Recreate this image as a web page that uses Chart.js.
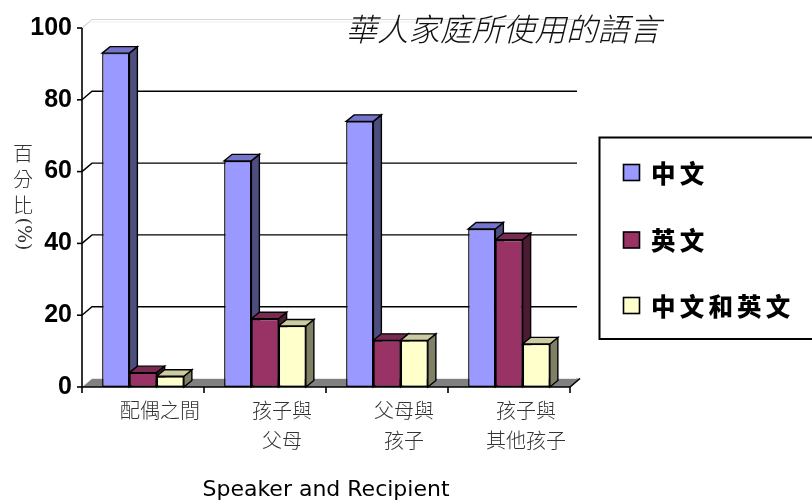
<!DOCTYPE html>
<html>
<head>
<meta charset="utf-8">
<script src="https://cdn.jsdelivr.net/npm/chart.js@4/dist/chart.umd.min.js"></script>
<style>
html,body{margin:0;padding:0;background:#fff;}
canvas{display:block;}
</style>
</head>
<body>
<canvas id="c" width="812" height="502"></canvas>
<script>
// ---- data ----
const categories = [["配偶之間"], ["孩子與", "父母"], ["父母與", "孩子"], ["孩子與", "其他孩子"]];
const seriesNames = ["中文", "英文", "中文和英文"];
const chinese = [93, 63, 74, 44];
const english = [4, 19, 13, 41];
const both = [3, 17, 13, 12];
const yTicks = [0, 20, 40, 60, 80, 100];
const chartTitle = "華人家庭所使用的語言";
const yTitleChars = ["百", "分", "比"];
const yTitleTail = "(%)";
const xTitle = "Speaker and Recipient";

// ---- styles ----
const fronts = ["#9999FF", "#993366", "#FFFFCC"];
const tops = ["#7474CC", "#7A2952", "#CCCCA3"];
const sides = ["#4D4D80", "#4D1A33", "#808066"];
const BAR_DX = 8, BAR_DY = -6.5;   // bar depth
const WALL_DX = 10, WALL_DY = -8.5; // wall depth
const CJK = '"Noto Sans CJK TC", "Noto Sans CJK SC", sans-serif';

function poly(ctx, pts, fill, stroke, lw) {
  ctx.beginPath();
  ctx.moveTo(pts[0][0], pts[0][1]);
  for (let i = 1; i < pts.length; i++) ctx.lineTo(pts[i][0], pts[i][1]);
  ctx.closePath();
  if (fill) { ctx.fillStyle = fill; ctx.fill(); }
  if (stroke) { ctx.strokeStyle = stroke; ctx.lineWidth = lw || 1; ctx.stroke(); }
}

const scene3d = {
  id: 'scene3d',
  beforeDatasetsDraw(chart) {
    const ctx = chart.ctx;
    const a = chart.chartArea;
    const ys = chart.scales.y;
    ctx.save();
    const yTop = ys.getPixelForValue(100);
    const yBot = ys.getPixelForValue(0);
    // back wall top edge & top-left diagonal (light)
    ctx.strokeStyle = '#d8d8d8';
    ctx.lineWidth = 1.2;
    ctx.beginPath();
    ctx.moveTo(a.left, yTop);
    ctx.lineTo(a.left + WALL_DX, yTop + WALL_DY);
    ctx.lineTo(a.right + WALL_DX - 3, yTop + WALL_DY);
    ctx.stroke();
    ctx.beginPath();
    ctx.moveTo(a.left + WALL_DX, yTop + WALL_DY + 2.5);
    ctx.lineTo(a.right + WALL_DX - 3, yTop + WALL_DY + 2.5);
    ctx.strokeStyle = '#eeeeee';
    ctx.stroke();
    // gridlines on back wall
    yTicks.forEach(v => {
      if (v === 0 || v === 100) return;
      const y = ys.getPixelForValue(v);
      ctx.strokeStyle = '#000';
      ctx.lineWidth = 1.4;
      ctx.beginPath();
      ctx.moveTo(a.left, y);
      ctx.lineTo(a.left + WALL_DX, y + WALL_DY);
      ctx.lineTo(a.right + WALL_DX - 3, y + WALL_DY);
      ctx.stroke();
    });
    // floor
    poly(ctx, [[a.left, yBot], [a.right, yBot], [a.right + WALL_DX, yBot + WALL_DY], [a.left + WALL_DX, yBot + WALL_DY]], '#808080');
    ctx.strokeStyle = '#e6e6e6';
    ctx.lineWidth = 1;
    ctx.beginPath();
    ctx.moveTo(a.left + 1, yBot - 1);
    ctx.lineTo(a.left + WALL_DX, yBot + WALL_DY);
    ctx.lineTo(a.right + WALL_DX - 4, yBot + WALL_DY);
    ctx.stroke();
    // y axis line & ticks
    ctx.strokeStyle = '#000';
    ctx.lineWidth = 1.6;
    ctx.beginPath();
    ctx.moveTo(a.left, yTop);
    ctx.lineTo(a.left, yBot);
    ctx.stroke();
    yTicks.forEach(v => {
      const y = ys.getPixelForValue(v);
      ctx.beginPath();
      ctx.moveTo(a.left - 5, y);
      ctx.lineTo(a.left, y);
      ctx.stroke();
    });
    // x axis line & ticks
    ctx.beginPath();
    ctx.moveTo(a.left, yBot);
    ctx.lineTo(a.right, yBot);
    ctx.lineTo(a.right + WALL_DX, yBot + WALL_DY);
    ctx.stroke();
    const n = categories.length;
    const cw = (a.right - a.left) / n;
    for (let i = 0; i <= n; i++) {
      const x = a.left + i * cw;
      ctx.beginPath();
      ctx.moveTo(x, yBot);
      ctx.lineTo(x, yBot + 6);
      ctx.stroke();
    }
    // bar sides & tops
    const metas = chart.data.datasets.map((d, i) => chart.getDatasetMeta(i));
    for (let c = 0; c < n; c++) {
      metas.forEach((m, di) => {
        const el = m.data[c];
        const p = el.getProps(['x', 'y', 'base', 'width'], true);
        const l = p.x - p.width / 2, r = p.x + p.width / 2;
        const t = p.y, b = p.base;
        poly(ctx, [[r, t], [r + BAR_DX, t + BAR_DY], [r + BAR_DX, b + BAR_DY], [r, b]], sides[di], '#000', 1.4);
        poly(ctx, [[l, t], [r, t], [r + BAR_DX, t + BAR_DY], [l + BAR_DX, t + BAR_DY]], tops[di], '#000', 1.4);
      });
    }
    ctx.restore();
  },
  afterDraw(chart) {
    const ctx = chart.ctx;
    ctx.save();
    // title
    ctx.fillStyle = '#111';
    ctx.font = 'italic 300 31.5px ' + CJK;
    ctx.textAlign = 'center';
    ctx.textBaseline = 'middle';
    ctx.fillText(chartTitle, 503, 29);
    // y title
    ctx.fillStyle = '#333';
    ctx.font = '300 20px ' + CJK;
    yTitleChars.forEach((ch, i) => ctx.fillText(ch, 23, 153 + i * 26));
    ctx.save();
    ctx.translate(23, 234);
    ctx.rotate(Math.PI / 2);
    ctx.font = '19px "DejaVu Serif", serif';
    ctx.fillText(yTitleTail, 0, 0);
    ctx.restore();
    // legend
    ctx.strokeStyle = '#000';
    ctx.lineWidth = 2;
    ctx.strokeRect(599.5, 137.5, 230, 201.5);
    const ly = [172.5, 240, 305.5];
    chart.data.datasets.forEach((d, i) => {
      ctx.fillStyle = d.backgroundColor;
      ctx.fillRect(623.5, ly[i] - 8, 16, 16);
      ctx.lineWidth = 1.6;
      ctx.strokeRect(623.5, ly[i] - 8, 16, 16);
      ctx.fillStyle = '#000';
      ctx.font = '900 24.5px ' + CJK;
      ctx.textAlign = 'left';
      ctx.textBaseline = 'middle';
      [...d.label].forEach((ch, k) => ctx.fillText(ch, 651 + k * 28.7, ly[i] + 1));
    });
    ctx.restore();
  }
};

new Chart(document.getElementById('c'), {
  type: 'bar',
  data: {
    labels: categories,
    datasets: [
      { label: seriesNames[0], data: chinese, backgroundColor: fronts[0] },
      { label: seriesNames[1], data: english, backgroundColor: fronts[1] },
      { label: seriesNames[2], data: both, backgroundColor: fronts[2] }
    ]
  },
  options: {
    responsive: false,
    devicePixelRatio: 1,
    animation: false,
    layout: { padding: { top: 28, right: 242, left: 0, bottom: 0 } },
    datasets: {
      bar: {
        categoryPercentage: 0.67,
        barPercentage: 1.0,
        borderColor: '#000',
        borderWidth: 1.4,
        borderSkipped: false
      }
    },
    plugins: {
      legend: { display: false },
      tooltip: { enabled: false },
      title: { display: false }
    },
    scales: {
      y: {
        min: 0, max: 100,
        afterFit(s) { s.width = 82; },
        grid: { display: false, drawTicks: false },
        border: { display: false },
        ticks: {
          stepSize: 20,
          padding: 10,
          color: '#000',
          font: { family: '"Liberation Sans", Arial, sans-serif', size: 25, weight: 'bold' }
        }
      },
      x: {
        afterFit(s) { s.height = 115; },
        grid: { display: false, drawTicks: false },
        border: { display: false },
        ticks: {
          padding: 8,
          labelOffset: 17,
          maxRotation: 0,
          autoSkip: false,
          color: '#333',
          font: { family: CJK, size: 20, weight: '300', lineHeight: 1.52 }
        },
        title: {
          display: true,
          text: xTitle,
          color: '#000',
          padding: { top: 0, bottom: 0 },
          font: { family: '"DejaVu Sans", sans-serif', size: 22, lineHeight: 1.1 }
        }
      }
    }
  },
  plugins: [scene3d]
});
</script>
</body>
</html>
